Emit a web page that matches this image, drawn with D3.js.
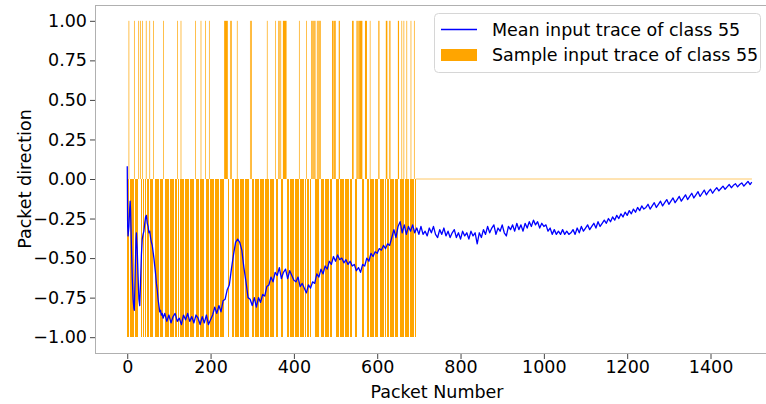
<!DOCTYPE html>
<html>
<head>
<meta charset="utf-8">
<script src="https://cdnjs.cloudflare.com/ajax/libs/d3/7.8.5/d3.min.js"></script>
<style>
  body { margin: 0; background: #fff; }
  text { font-family: "DejaVu Sans", sans-serif; }
</style>
</head>
<body>
<svg id="chart" width="766" height="404"></svg>
<script>
// packets in the trace, and how many of them the sample actually has
const traceLength = 1500;
const sampleLength = 693;

// packets of the sample that go out (+1); every other sample packet is -1
const positivePackets = [
  4, 17, 27, 28, 32, 37, 45, 46, 54, 63, 87, 121, 129, 164, 177, 188, 197,
  233, 234, 235, 236, 237, 238, 239, 240, 241, 247, 248, 250, 251, 264,
  295, 296, 298, 299, 336, 356, 363, 364, 366, 368, 369,
  374, 375, 376, 377, 378, 379, 380, 381, 382, 413, 430,
  442, 443, 445, 447, 449, 451, 456, 458, 460, 462, 464,
  492, 493, 494, 495, 497, 498, 499, 500, 508, 509, 510,
  540, 541, 542, 543, 551, 553, 555, 557, 558, 559, 560, 561, 562, 563, 564,
  571, 572, 573, 574, 575, 583, 603, 604, 605, 621, 622, 623, 624, 629, 631,
  650, 651, 652, 659, 664, 671, 681, 689
];

// mean direction of class 55, [packet, value]
const meanTrace = [
  [0, 0.08], [1, -0.3], [2, -0.36], [4, -0.3], [6, -0.18], [7, -0.14], [8, -0.2],
  [10, -0.42], [12, -0.62], [14, -0.76], [16, -0.82], [17, -0.83], [19, -0.6],
  [21, -0.38], [22, -0.34], [24, -0.45], [26, -0.62], [28, -0.76], [30, -0.8],
  [32, -0.65], [34, -0.48], [36, -0.38], [38, -0.35], [40, -0.33], [42, -0.28],
  [44, -0.24], [46, -0.23], [48, -0.28], [50, -0.3], [52, -0.34], [54, -0.33],
  [56, -0.37], [58, -0.4], [60, -0.42], [62, -0.46], [64, -0.5], [66, -0.55],
  [68, -0.6], [70, -0.66], [72, -0.7], [74, -0.76], [76, -0.8], [78, -0.84],
  [80, -0.83], [82, -0.86], [84, -0.85], [86, -0.88],
  [90, -0.85], [95, -0.9], [100, -0.86], [105, -0.91], [110, -0.87], [115, -0.85],
  [120, -0.9], [125, -0.88], [130, -0.92], [135, -0.86], [140, -0.89], [145, -0.85],
  [150, -0.9], [155, -0.87], [160, -0.91], [165, -0.86], [170, -0.88], [175, -0.92],
  [180, -0.87], [185, -0.91], [190, -0.86], [195, -0.92], [200, -0.89],
  [205, -0.86], [210, -0.81], [215, -0.85], [220, -0.8], [225, -0.84], [230, -0.77],
  [235, -0.76], [240, -0.7], [245, -0.67], [250, -0.57], [255, -0.48], [260, -0.4],
  [265, -0.38], [270, -0.4], [275, -0.45], [280, -0.56], [285, -0.65], [290, -0.75],
  [295, -0.76], [300, -0.8], [305, -0.75], [310, -0.81], [315, -0.75], [320, -0.78],
  [325, -0.73], [330, -0.74], [335, -0.68], [340, -0.67], [345, -0.62], [350, -0.65],
  [355, -0.59], [360, -0.61], [365, -0.56], [370, -0.63], [375, -0.59], [380, -0.57],
  [385, -0.63], [390, -0.58], [395, -0.61], [400, -0.64], [405, -0.65], [410, -0.62],
  [415, -0.68], [420, -0.66], [425, -0.69], [430, -0.72], [435, -0.67], [440, -0.69],
  [445, -0.65], [450, -0.66], [455, -0.6], [460, -0.62], [465, -0.57], [470, -0.6],
  [475, -0.55], [480, -0.57], [485, -0.52], [490, -0.54], [495, -0.49], [500, -0.52],
  [505, -0.48], [510, -0.51], [515, -0.5], [520, -0.53], [525, -0.51], [530, -0.54],
  [535, -0.52], [540, -0.55], [545, -0.54], [550, -0.58], [555, -0.56], [560, -0.59],
  [565, -0.54], [570, -0.55], [575, -0.5], [580, -0.52], [585, -0.47], [590, -0.49],
  [595, -0.46], [600, -0.47], [605, -0.44], [610, -0.45], [615, -0.42], [620, -0.44],
  [625, -0.41], [630, -0.42], [635, -0.37], [640, -0.32], [645, -0.37], [650, -0.3],
  [655, -0.27], [660, -0.34], [665, -0.29], [670, -0.35], [675, -0.3], [680, -0.33],
  [685, -0.29], [690, -0.34], [695, -0.31], [700, -0.35],
  [705, -0.3], [710, -0.35], [715, -0.33], [720, -0.36], [725, -0.31], [730, -0.34],
  [735, -0.3], [740, -0.35], [745, -0.37], [750, -0.32], [755, -0.35], [760, -0.31],
  [765, -0.36], [770, -0.33], [775, -0.37], [780, -0.34], [785, -0.32], [790, -0.37],
  [795, -0.34], [800, -0.38], [805, -0.33], [810, -0.36], [815, -0.34], [820, -0.38],
  [825, -0.33], [830, -0.36], [835, -0.34], [840, -0.41], [845, -0.34], [850, -0.37],
  [855, -0.32], [860, -0.35], [865, -0.3], [870, -0.34], [875, -0.31], [880, -0.29],
  [885, -0.35], [890, -0.31], [895, -0.33], [900, -0.29], [905, -0.34], [910, -0.36],
  [915, -0.3], [920, -0.32], [925, -0.29], [930, -0.33], [935, -0.28], [940, -0.32],
  [945, -0.29], [950, -0.33], [955, -0.28], [960, -0.31], [965, -0.27], [970, -0.3],
  [975, -0.26], [980, -0.29], [985, -0.27], [990, -0.31], [995, -0.28], [1000, -0.3],
  [1005, -0.29], [1010, -0.33], [1015, -0.31], [1020, -0.35], [1025, -0.32], [1030, -0.35],
  [1035, -0.33], [1040, -0.35], [1045, -0.32], [1050, -0.35], [1055, -0.33], [1060, -0.35],
  [1065, -0.34], [1070, -0.32], [1075, -0.35], [1080, -0.31], [1085, -0.34], [1090, -0.3],
  [1095, -0.33], [1100, -0.31], [1105, -0.29], [1110, -0.32], [1115, -0.3], [1120, -0.28],
  [1125, -0.31], [1130, -0.27], [1135, -0.3], [1140, -0.28], [1145, -0.26], [1150, -0.28],
  [1155, -0.25], [1160, -0.27], [1165, -0.24], [1170, -0.26], [1175, -0.23], [1180, -0.25],
  [1185, -0.22], [1190, -0.24], [1195, -0.21], [1200, -0.23], [1205, -0.2], [1210, -0.22],
  [1215, -0.19], [1220, -0.21], [1225, -0.18], [1230, -0.2], [1235, -0.17], [1240, -0.19],
  [1245, -0.18], [1250, -0.16], [1255, -0.19], [1260, -0.17], [1265, -0.15], [1270, -0.18],
  [1275, -0.16], [1280, -0.14], [1285, -0.17], [1290, -0.15], [1295, -0.13], [1300, -0.16],
  [1305, -0.14], [1310, -0.12], [1315, -0.15], [1320, -0.13], [1325, -0.11], [1330, -0.14],
  [1335, -0.12], [1340, -0.1], [1345, -0.13], [1350, -0.11], [1355, -0.09], [1360, -0.12],
  [1365, -0.1], [1370, -0.08], [1375, -0.11], [1380, -0.09], [1385, -0.07], [1390, -0.1],
  [1395, -0.08], [1400, -0.065], [1405, -0.09], [1410, -0.07], [1415, -0.055], [1420, -0.075],
  [1425, -0.06], [1430, -0.045], [1435, -0.065], [1440, -0.05], [1445, -0.035], [1450, -0.055],
  [1455, -0.04], [1460, -0.03], [1465, -0.05], [1470, -0.035], [1475, -0.025], [1480, -0.045],
  [1485, -0.03], [1490, -0.015], [1495, -0.035], [1499, -0.02]
];

const xTicks = [0, 200, 400, 600, 800, 1000, 1200, 1400];
const yTicks = [-1, -0.75, -0.5, -0.25, 0, 0.25, 0.5, 0.75, 1];

const orange = '#ffa500';
const blue = '#0000ff';
const spineColor = '#b0b0b0';

const svg = d3.select('#chart');

const posSet = new Set(positivePackets);
const sample = d3.range(traceLength).map(i =>
  i >= sampleLength ? 0 : (posSet.has(i) ? 1 : -1));

// group neighbouring packets with the same direction into one block
const runs = [];
sample.forEach((v, i) => {
  const last = runs[runs.length - 1];
  if (last && last.v === v) last.end = i;
  else runs.push({ v, start: i, end: i });
});

// axes box runs past the right edge, like the cropped figure
const xScale = d3.scaleLinear().domain([-75, 1574]).range([96, 783]);
const yScale = d3.scaleLinear().domain([-1.1, 1.1]).range([353, 5]);

// incoming packets: one bar each, edges snapped to whole pixels
const inBars = sample.map((v, i) => ({ v, i }))
  .filter(d => d.v < 0)
  .map(d => ({
    v: d.v,
    x0: Math.round(xScale(d.i - 0.4)),
    x1: Math.round(xScale(d.i + 0.4))
  }))
  .filter(d => d.x1 > d.x0);

svg.append('g')
  .attr('shape-rendering', 'crispEdges')
  .selectAll('rect')
  .data(inBars)
  .join('rect')
    .attr('x', d => d.x0)
    .attr('width', d => d.x1 - d.x0)
    .attr('y', yScale(0))
    .attr('height', d => yScale(d.v) - yScale(0))
    .attr('fill', orange);

// outgoing packets: blocks of neighbouring bars
svg.append('g')
  .selectAll('rect')
  .data(runs.filter(r => r.v > 0))
  .join('rect')
    .attr('x', d => {
      const w = xScale(d.end + 0.4) - xScale(d.start - 0.4);
      return w < 0.7 ? (xScale(d.start) - 0.35) : xScale(d.start - 0.4);
    })
    .attr('width', d => Math.max(0.7, xScale(d.end + 0.4) - xScale(d.start - 0.4)))
    .attr('y', d => yScale(d.v))
    .attr('height', d => yScale(0) - yScale(d.v))
    .attr('fill', orange);

// the empty tail of the sample shows as a faint line at zero
const tail = runs.filter(r => r.v === 0)[0];
svg.append('line')
  .attr('x1', xScale(tail.start - 0.4))
  .attr('x2', xScale(tail.end + 0.4))
  .attr('y1', yScale(0))
  .attr('y2', yScale(0))
  .attr('stroke', orange)
  .attr('stroke-opacity', 0.6)
  .attr('stroke-width', 1);

const line = d3.line()
  .x(d => xScale(d[0]))
  .y(d => yScale(d[1]));

svg.append('path')
  .datum(meanTrace)
  .attr('d', line)
  .attr('fill', 'none')
  .attr('stroke', blue)
  .attr('stroke-width', 1.3)
  .attr('stroke-linejoin', 'round');

// spines
svg.append('line')
  .attr('x1', 96).attr('x2', 766).attr('y1', 5.5).attr('y2', 5.5)
  .attr('stroke', spineColor);
svg.append('line')
  .attr('x1', 96).attr('x2', 766).attr('y1', 353.5).attr('y2', 353.5)
  .attr('stroke', spineColor);
svg.append('line')
  .attr('x1', 95.5).attr('x2', 95.5).attr('y1', 5).attr('y2', 354)
  .attr('stroke', spineColor);

const xAxis = svg.append('g')
  .attr('transform', 'translate(0,354)')
  .call(d3.axisBottom(xScale).tickValues(xTicks).tickFormat(d3.format('d'))
    .tickSize(5).tickPadding(2));
const yAxis = svg.append('g')
  .attr('transform', 'translate(95,0)')
  .call(d3.axisLeft(yScale).tickValues(yTicks).tickFormat(d3.format('.2f'))
    .tickSize(5).tickPadding(3));

[xAxis, yAxis].forEach(g => {
  g.select('.domain').remove();
  g.selectAll('.tick line').attr('stroke', '#444');
  g.selectAll('.tick text')
    .attr('fill', '#000')
    .style('font-size', '17.5px')
    .style('font-family', '"DejaVu Sans", sans-serif');
});

svg.append('text')
  .attr('x', 437).attr('y', 398)
  .attr('text-anchor', 'middle')
  .style('font-size', '17.5px')
  .text('Packet Number');

svg.append('text')
  .attr('transform', 'translate(31,179) rotate(-90)')
  .attr('text-anchor', 'middle')
  .style('font-size', '17.5px')
  .text('Packet direction');

// legend
const legend = svg.append('g');
legend.append('rect')
  .attr('x', 434.5).attr('y', 13.5).attr('width', 326).attr('height', 59)
  .attr('rx', 4)
  .attr('fill', '#fff').attr('fill-opacity', 0.8)
  .attr('stroke', '#d6d6d6');
legend.append('line')
  .attr('x1', 441).attr('x2', 477).attr('y1', 29.5).attr('y2', 29.5)
  .attr('stroke', blue).attr('stroke-width', 1.3);
legend.append('rect')
  .attr('x', 441).attr('y', 49).attr('width', 36).attr('height', 12)
  .attr('fill', orange);
legend.append('text')
  .attr('x', 492).attr('y', 36)
  .style('font-size', '17.5px')
  .text('Mean input trace of class 55');
legend.append('text')
  .attr('x', 492).attr('y', 61)
  .style('font-size', '17.5px')
  .text('Sample input trace of class 55');
</script>
</body>
</html>
